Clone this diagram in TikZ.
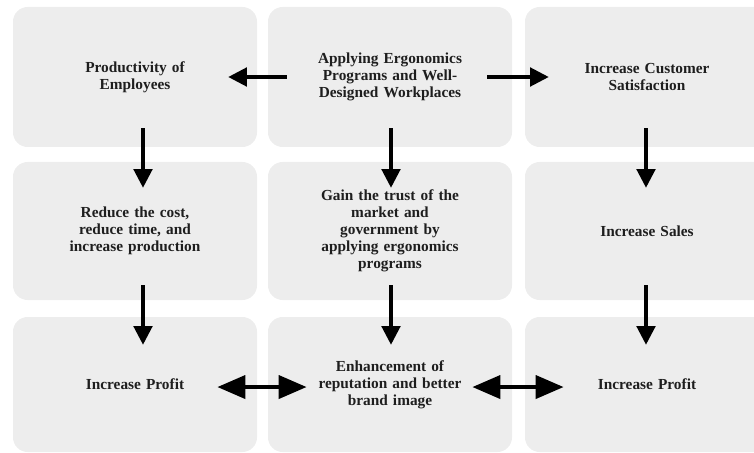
\documentclass[tikz,border=0pt]{standalone}
\usepackage{fontspec}
\setmainfont{Liberation Serif}
\usetikzlibrary{arrows.meta}
\definecolor{boxgray}{HTML}{EDEDED}
\definecolor{txt}{HTML}{1E1E1E}
\tikzset{
  box/.style={fill=boxgray, draw=none, rounded corners=11pt, minimum width=183pt,
    text width=175pt, align=center, inner sep=0pt,
    font=\fontsize{11.5}{12.75}\selectfont\bfseries, text=txt},
  rowa/.style={minimum height=105pt},
  rowb/.style={minimum height=103.5pt},
  rowc/.style={minimum height=101.25pt},
  arr/.style={line width=2.3pt, -{Triangle[length=14pt,width=14pt]}},
  dbl/.style={line width=3.5pt, {Triangle[length=21pt,width=17pt]}-{Triangle[length=21pt,width=17pt]}},
}
\begin{document}
\begin{tikzpicture}[x=0.75pt,y=-0.75pt]
\useasboundingbox (0,0) rectangle (754,453);
\clip (0,0) rectangle (754,453);
% row 1
\node[box,rowa] (prod) at (135,77) {Productivity of\\Employees};
\node[box,rowa] (appl) at (390,77) {Applying Ergonomics\\Programs and Well-\\Designed Workplaces};
\node[box,rowa] (cust) at (647,77) {Increase Customer\\Satisfaction};
% row 2
\node[box,rowb] (cost) at (135,231) {Reduce the cost,\\reduce time, and\\increase production};
\node[box,rowb] (trust) at (390,231) {Gain the trust of the\\market and\\government by\\applying ergonomics\\programs};
\node[box,rowb] (sales) at (647,231) {Increase Sales};
% row 3
\node[box,rowc] (prof1) at (135,384.5) {Increase Profit};
\node[box,rowc] (enh) at (390,384.5) {Enhancement of\\reputation and better\\brand image};
\node[box,rowc] (prof2) at (647,384.5) {Increase Profit};
% horizontal arrows row 1
\draw[arr] ([xshift=14.25pt]appl.west) -- ([xshift=-21.75pt]prod.east);
\draw[arr] ([xshift=-18.75pt]appl.east) -- ([xshift=18pt]cust.west);
% vertical arrows row1 -> row2
\draw[arr] ([xshift=6pt,yshift=14.25pt]prod.south) -- ([xshift=6pt,yshift=-19.5pt]cost.north);
\draw[arr] ([xshift=0.75pt,yshift=14.25pt]appl.south) -- ([xshift=0.75pt,yshift=-19.5pt]trust.north);
\draw[arr] ([xshift=-0.75pt,yshift=14.25pt]cust.south) -- ([xshift=-0.75pt,yshift=-19.5pt]sales.north);
% vertical arrows row2 -> row3
\draw[arr] ([xshift=6pt,yshift=11.25pt]cost.south) -- ([xshift=6pt,yshift=-21pt]prof1.north);
\draw[arr] ([xshift=0.75pt,yshift=11.25pt]trust.south) -- ([xshift=0.75pt,yshift=-21pt]enh.north);
\draw[arr] ([xshift=-0.75pt,yshift=11.25pt]sales.south) -- ([xshift=-0.75pt,yshift=-21pt]prof2.north);
% double arrows row 3
\draw[dbl] ([xshift=-30pt,yshift=-1.9pt]prof1.east) -- ([xshift=29.25pt,yshift=-1.9pt]enh.west);
\draw[dbl] ([xshift=-30pt,yshift=-1.9pt]enh.east) -- ([xshift=29.25pt,yshift=-1.9pt]prof2.west);
\end{tikzpicture}
\end{document}
